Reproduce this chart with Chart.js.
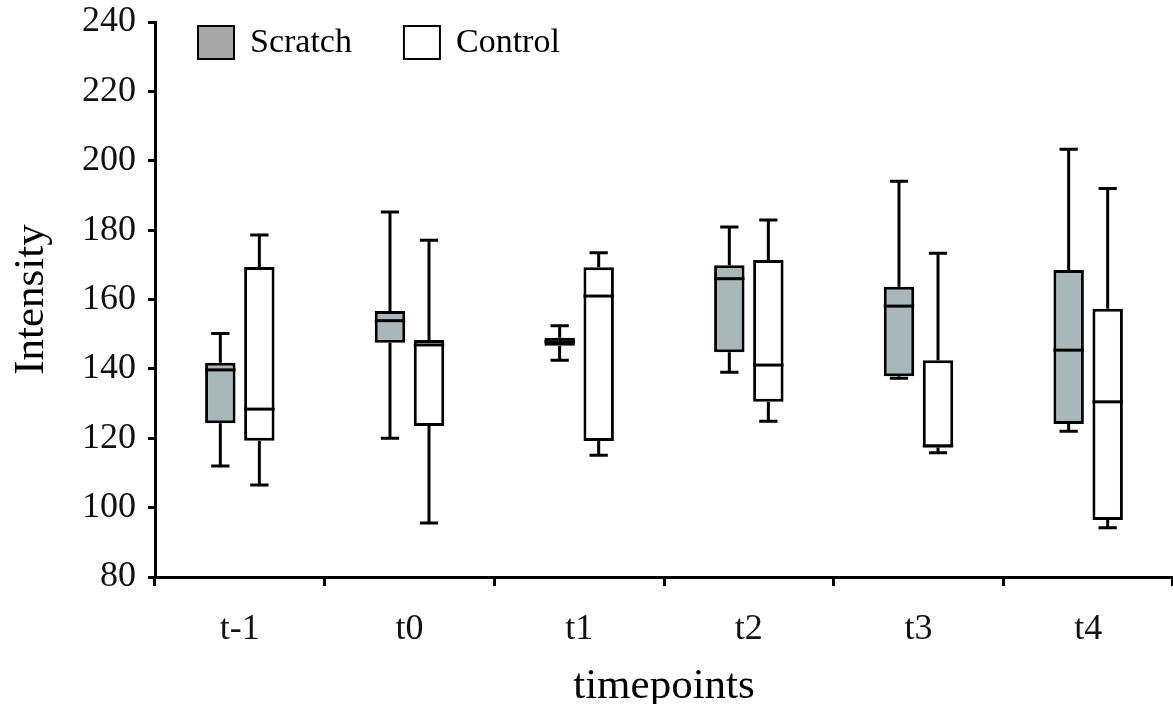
<!DOCTYPE html>
<html>
<head>
<meta charset="utf-8">
<script src="https://cdn.jsdelivr.net/npm/chart.js@4"></script>
<style>
  html, body { margin: 0; padding: 0; background: #fff; }
  #wrap { width: 1173px; height: 704px; position: relative; }
</style>
</head>
<body>
<div id="wrap"><canvas id="myChart"></canvas></div>
<script>
// values
var categories = ["t-1", "t0", "t1", "t2", "t3", "t4"];

var scratchMin    = [112.0, 120.0, 142.5, 139.0, 137.3, 122.0];
var scratchQ1     = [124.3, 147.5, 146.7, 144.8, 137.9, 124.1];
var scratchMedian = [139.7, 153.9, 147.8, 166.0, 158.1, 145.4];
var scratchQ3     = [141.8, 156.7, 149.0, 169.9, 163.7, 168.5];
var scratchMax    = [150.2, 185.2, 152.4, 180.9, 194.1, 203.3];

var controlMin    = [106.5,  95.6, 115.1, 124.9, 115.8,  94.2];
var controlQ1     = [119.3, 123.5, 119.2, 130.5, 117.3,  96.4];
var controlMedian = [128.4, 146.9, 161.0, 141.1, 117.8, 130.5];
var controlQ3     = [169.4, 148.3, 169.3, 171.4, 142.5, 157.3];
var controlMax    = [178.6, 177.1, 173.5, 182.9, 173.3, 192.0];

var yTicks = [80, 100, 120, 140, 160, 180, 200, 220, 240];

var serif = "'Liberation Serif', 'Times New Roman', serif";
Chart.defaults.font.family = serif;
Chart.defaults.color = "#111";

function boxes(q1, q3) {
	var out = [];
	for (var i = 0; i < q1.length; i++) {
		out.push([q1[i], q3[i]]);
	}
	return out;
}

var stats = [
	{min: scratchMin, med: scratchMedian, max: scratchMax, q1: scratchQ1, q3: scratchQ3},
	{min: controlMin, med: controlMedian, max: controlMax, q1: controlQ1, q3: controlQ3}
];

var legendFill = ["#a6a6a6", "#ffffff"];

// whiskers behind the boxes, medians on top
var boxPlotLines = {
	id: "boxPlotLines",
	beforeDatasetsDraw: function(chart) {
		var ctx = chart.ctx;
		var y = chart.scales.y;
		ctx.save();
		ctx.strokeStyle = "#000";
		ctx.lineWidth = 3;
		chart.data.datasets.forEach(function(ds, d) {
			var meta = chart.getDatasetMeta(d);
			meta.data.forEach(function(bar, i) {
				var p = bar.getProps(["x", "width"], true);
				var cap = p.width * 0.3;
				var s = stats[d];
				ctx.beginPath();
				ctx.moveTo(p.x, y.getPixelForValue(s.q3[i]));
				ctx.lineTo(p.x, y.getPixelForValue(s.max[i]));
				ctx.moveTo(p.x - cap, y.getPixelForValue(s.max[i]));
				ctx.lineTo(p.x + cap, y.getPixelForValue(s.max[i]));
				ctx.moveTo(p.x, y.getPixelForValue(s.q1[i]));
				ctx.lineTo(p.x, y.getPixelForValue(s.min[i]));
				ctx.moveTo(p.x - cap, y.getPixelForValue(s.min[i]));
				ctx.lineTo(p.x + cap, y.getPixelForValue(s.min[i]));
				ctx.stroke();
			});
		});
		ctx.restore();
	},
	afterDatasetsDraw: function(chart) {
		var ctx = chart.ctx;
		var y = chart.scales.y;
		ctx.save();
		ctx.strokeStyle = "#000";
		ctx.lineWidth = 3;
		chart.data.datasets.forEach(function(ds, d) {
			var meta = chart.getDatasetMeta(d);
			meta.data.forEach(function(bar, i) {
				var p = bar.getProps(["x", "width"], true);
				var m = y.getPixelForValue(stats[d].med[i]);
				ctx.beginPath();
				ctx.moveTo(p.x - p.width / 2, m);
				ctx.lineTo(p.x + p.width / 2, m);
				ctx.stroke();
			});
		});

		// legend, top left inside the plot
		var area = chart.chartArea;
		var x = area.left + 43;
		var top = area.top + 4;
		ctx.font = "34px " + serif;
		ctx.textBaseline = "middle";
		ctx.textAlign = "left";
		chart.data.datasets.forEach(function(ds, d) {
			ctx.fillStyle = legendFill[d];
			ctx.fillRect(x, top, 36, 33);
			ctx.lineWidth = 2;
			ctx.strokeStyle = "#000";
			ctx.strokeRect(x, top, 36, 33);
			ctx.fillStyle = "#000";
			ctx.fillText(ds.label, x + 52, top + 17);
			x += 52 + ctx.measureText(ds.label).width + 52;
		});
		ctx.restore();
	}
};

var ctx = document.getElementById("myChart").getContext("2d");
var chart = new Chart(ctx, {
	type: "bar",
	data: {
		labels: categories,
		datasets: [{
			label: "Scratch",
			data: boxes(scratchQ1, scratchQ3),
			backgroundColor: "#a8b7ba",
			borderColor: "#000",
			borderWidth: 3,
			borderSkipped: false,
			categoryPercentage: 0.46,
			barPercentage: 0.78
		}, {
			label: "Control",
			data: boxes(controlQ1, controlQ3),
			backgroundColor: "#ffffff",
			borderColor: "#000",
			borderWidth: 3,
			borderSkipped: false,
			categoryPercentage: 0.46,
			barPercentage: 0.78
		}]
	},
	options: {
		responsive: true,
		maintainAspectRatio: false,
		animation: false,
		layout: { padding: { top: 22, right: 0, bottom: 0, left: 0 } },
		plugins: {
			legend: { display: false },
			tooltip: { enabled: false }
		},
		scales: {
			x: {
				grid: { drawOnChartArea: false, color: "#000", lineWidth: 3, tickLength: 9 },
				border: { color: "#000", width: 3 },
				ticks: { font: { size: 36 }, padding: 22, color: "#111" },
				title: { display: true, text: "timepoints", font: { size: 43, lineHeight: 0.8 }, color: "#000",
					padding: { top: 0, bottom: 0 } },
				afterFit: function(scale) { scale.height = 127; }
			},
			y: {
				min: 80,
				max: 240,
				afterBuildTicks: function(scale) {
					scale.ticks = yTicks.map(function(v) { return {value: v}; });
				},
				grid: { drawOnChartArea: false, color: "#000", lineWidth: 3, tickLength: 7 },
				border: { color: "#000", width: 3 },
				ticks: { font: { size: 36 }, padding: 12, color: "#111" },
				title: { display: true, text: "Intensity", font: { size: 43 }, color: "#000",
					padding: { top: 6, bottom: 0 } },
				afterFit: function(scale) {
					scale.width = 155;
					scale.paddingTop = 0;
					scale.paddingBottom = 0;
				}
			}
		}
	},
	plugins: [boxPlotLines]
});
</script>
</body>
</html>
